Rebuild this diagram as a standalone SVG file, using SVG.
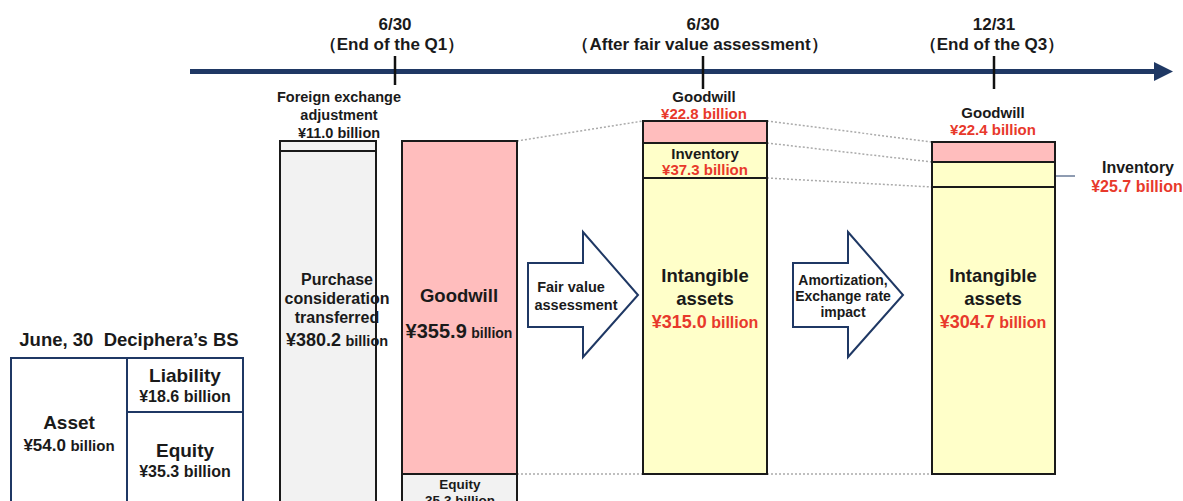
<svg xmlns="http://www.w3.org/2000/svg" width="1183" height="501" viewBox="0 0 1183 501">
<style>
text{font-family:"Liberation Sans",Arial,sans-serif;font-weight:bold;fill:#1a1a1a;text-anchor:middle}
.t17{font-size:17px}
.t15{font-size:15px}
.t14{font-size:14.5px}
.t16{font-size:16px}
.t19{font-size:19px}
.red{fill:#e8392b}
.box{stroke:#1a1a1a;stroke-width:2}
.gray{fill:#f2f2f2}
.pink{fill:#ffbdbd}
.yel{fill:#ffffc9}
.dot{stroke:#aaaaaa;stroke-width:1.5;stroke-dasharray:2 2;fill:none}
.bs{fill:#fff;stroke:#1f3864;stroke-width:2}
.blk{fill:#fff;stroke:#1f3864;stroke-width:2;stroke-linejoin:miter}
</style>
<rect width="1183" height="501" fill="#fff"/>
<g id="connectors">
<line class="dot" x1="517" y1="141" x2="643" y2="121"/>
<line class="dot" x1="767" y1="121" x2="932" y2="142"/>
<line class="dot" x1="767" y1="143" x2="932" y2="162"/>
<line class="dot" x1="767" y1="178" x2="932" y2="187"/>
<line class="dot" x1="517" y1="474" x2="643" y2="474"/>
<line class="dot" x1="767" y1="474" x2="932" y2="474"/>
<line x1="1034" y1="176" x2="1075" y2="176" stroke="#1f3864" stroke-width="1"/>
</g>
<g id="timeline">
<line x1="190" y1="71.5" x2="1156" y2="71.5" stroke="#1f3864" stroke-width="5"/>
<polygon points="1154,62 1173,71.5 1154,81" fill="#1f3864"/>
<line x1="395" y1="56" x2="395" y2="85" stroke="#111" stroke-width="2.5"/>
<line x1="703" y1="56" x2="703" y2="89" stroke="#111" stroke-width="2.5"/>
<line x1="994" y1="56" x2="994" y2="89" stroke="#111" stroke-width="2.5"/>
<text class="t17" x="395" y="30">6/30</text>
<text class="t17" x="392" y="50">（End of the Q1）</text>
<text class="t17" x="703" y="30">6/30</text>
<text class="t17" x="700" y="50">（After fair value assessment）</text>
<text class="t17" x="994" y="30">12/31</text>
<text class="t17" x="992" y="50">（End of the Q3）</text>
</g>
<g id="purchase">
<rect class="box gray" x="280" y="141" width="96" height="370"/>
<line x1="280" y1="151" x2="376" y2="151" stroke="#1a1a1a" stroke-width="2"/>
<text class="t14" x="339" y="102">Foreign exchange</text>
<text class="t14" x="339" y="120">adjustment</text>
<text class="t14" x="339" y="138">¥11.0 billion</text>
<text class="t16" x="337" y="285">Purchase</text>
<text class="t16" x="337" y="304">consideration</text>
<text class="t16" x="337" y="323">transferred</text>
<text x="337" y="346"><tspan font-size="18px">¥380.2</tspan> <tspan font-size="14.5px">billion</tspan></text>
</g>
<g id="goodwill1">
<rect class="box pink" x="402" y="141" width="115" height="333"/>
<rect class="box gray" x="402" y="474" width="115" height="40"/>
<text font-size="18.5px" x="459" y="302">Goodwill</text>
<text x="459" y="338"><tspan font-size="20px">¥355.9</tspan> <tspan font-size="14px">billion</tspan></text>
<text font-size="13.5px" x="460" y="489">Equity</text>
<text font-size="13.5px" x="460" y="505">35.3 billion</text>
</g>
<g id="arrow1">
<polygon class="blk" points="528,263 583,263 583,232 638,295 583,357 583,327 528,327"/>
<text class="t14" x="571" y="292">Fair value</text>
<text class="t14" x="576" y="310">assessment</text>
</g>
<g id="col2">
<rect class="box pink" x="643" y="121" width="124" height="22"/>
<rect class="box yel" x="643" y="143" width="124" height="35"/>
<rect class="box yel" x="643" y="178" width="124" height="296"/>
<text class="t15" x="704" y="102">Goodwill</text>
<text class="t15 red" x="704" y="119">¥22.8 billion</text>
<text class="t15" x="705" y="159">Inventory</text>
<text class="t15 red" x="705" y="175">¥37.3 billion</text>
<text font-size="18.5px" x="705" y="282">Intangible</text>
<text font-size="18.5px" x="705" y="305">assets</text>
<text class="red" x="705" y="328"><tspan font-size="18px">¥315.0</tspan> <tspan font-size="16px">billion</tspan></text>
</g>
<g id="arrow2">
<polygon class="blk" points="793,263 848,263 848,232 903,295 848,357 848,327 793,327"/>
<text font-size="14px" x="843" y="285">Amortization,</text>
<text font-size="14px" x="843" y="301">Exchange rate</text>
<text font-size="14px" x="843" y="317">impact</text>
</g>
<g id="col3">
<rect class="box pink" x="932" y="142" width="123" height="20"/>
<rect class="box yel" x="932" y="162" width="123" height="25"/>
<rect class="box yel" x="932" y="187" width="123" height="287"/>
<text class="t15" x="993" y="118">Goodwill</text>
<text class="t15 red" x="993" y="135">¥22.4 billion</text>
<text font-size="18.5px" x="993" y="282">Intangible</text>
<text font-size="18.5px" x="993" y="305">assets</text>
<text class="red" x="993" y="328"><tspan font-size="18px">¥304.7</tspan> <tspan font-size="16px">billion</tspan></text>
<text class="t16" x="1138" y="173">Inventory</text>
<text class="t16 red" x="1137" y="192">¥25.7 billion</text>
</g>
<g id="bs">
<text font-size="18.5px" x="129" y="346">June, 30 <tspan>&#160;</tspan>Deciphera’s BS</text>
<rect class="bs" x="11" y="358" width="232" height="160"/>
<line x1="127" y1="358" x2="127" y2="501" stroke="#1f3864" stroke-width="2"/>
<line x1="127" y1="412" x2="243" y2="412" stroke="#1f3864" stroke-width="2"/>
<text class="t19" x="69" y="429">Asset</text>
<text x="69" y="451"><tspan font-size="17px">¥54.0</tspan> <tspan font-size="15px">billion</tspan></text>
<text class="t19" x="185" y="382">Liability</text>
<text class="t16" x="185" y="402">¥18.6 billion</text>
<text class="t19" x="185" y="457">Equity</text>
<text class="t16" x="185" y="477">¥35.3 billion</text>
</g>
</svg>
